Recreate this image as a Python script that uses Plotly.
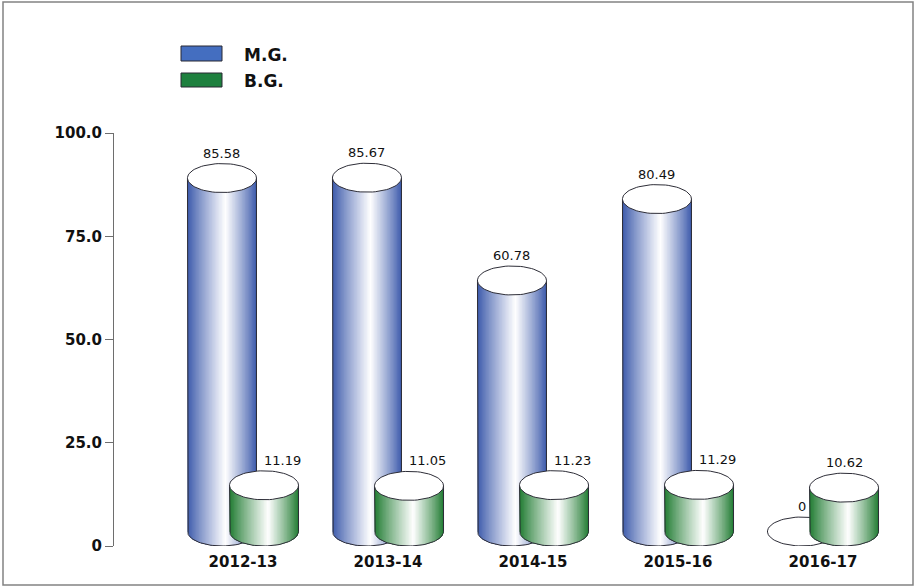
import numpy as np
import plotly.graph_objects as go

# ---- data ----
categories = ["2012-13", "2013-14", "2014-15", "2015-16", "2016-17"]
mg_values = [85.58, 85.67, 60.78, 80.49, 0]
bg_values = [11.19, 11.05, 11.23, 11.29, 10.62]
series_names = ["M.G.", "B.G."]
y_ticks = [0, 25, 50, 75, 100]
y_tick_labels = ["0", "25.0", "50.0", "75.0", "100.0"]

# ---- geometry / style ----
W, H = 915, 587
PX_LEFT, PX_RIGHT = 114, 900          # plot area, pixels
PX_TOP, PX_BOTTOM = 133, 546
CAT0_PX, CAT_STEP_PX = 243, 145       # first category centre and spacing
X_MIN = (PX_LEFT - CAT0_PX) / CAT_STEP_PX
X_MAX = (PX_RIGHT - CAT0_PX) / CAT_STEP_PX
Y_MIN, Y_MAX = 0, 100
Y_PX_PER_UNIT = (PX_BOTTOM - PX_TOP) / (Y_MAX - Y_MIN)

SERIES_OFFSET = 0.145                 # cylinder centre offset from category
RX = 34.5 / CAT_STEP_PX               # ellipse semi-axis in x units
RY = 14.5 / Y_PX_PER_UNIT             # ellipse semi-axis in y units
N_STRIPS = 48
OUTLINE = "rgb(45,45,55)"

styles = [
    dict(dark=(58, 88, 170), peak=0.55, swatch="rgb(68,110,192)"),
    dict(dark=(30, 122, 48), peak=0.56, swatch="rgb(30,128,62)"),
]


def shade(dark, t, peak):
    """Colour across the cylinder width: dark edges, white highlight."""
    if t <= peak:
        w = t / peak
    else:
        w = (1 - t) / (1 - peak)
    w = min(1.0, max(0.0, w)) ** 0.9
    r, g, b = (int(round(c + (255 - c) * w)) for c in dark)
    return f"rgb({r},{g},{b})"


def ellipse(xc, yc, n=72):
    th = np.linspace(0, 2 * np.pi, n)
    return list(xc + RX * np.cos(th)), list(yc + RY * np.sin(th))


fig = go.Figure()

for s, (values, st) in enumerate(zip([mg_values, bg_values], styles)):
    offset = -SERIES_OFFSET if s == 0 else SERIES_OFFSET
    centres = [i + offset for i in range(len(categories))]
    y_base = RY                                   # bottom ellipse centre
    edges = np.linspace(-1, 1, N_STRIPS + 1)

    # body: strips drawn left to right, each covering to the right edge
    for k in range(N_STRIPS):
        u0 = edges[k]
        t_mid = (edges[k] + edges[k + 1]) / 4 + 0.5
        xs, ys = [], []
        for xc, v in zip(centres, values):
            if v <= 0:
                continue
            y_top = v + RY
            arc_u = np.linspace(1, u0, 40)
            xs += [xc + RX * u0, xc + RX] + list(xc + RX * arc_u) + [xc + RX * u0, None]
            ys += [y_top, y_top] + list(y_base - RY * np.sqrt(np.clip(1 - arc_u ** 2, 0, 1))) + [y_top, None]
        if xs:
            fig.add_trace(go.Scatter(
                x=xs, y=ys, mode="lines", fill="toself",
                fillcolor=shade(st["dark"], t_mid, st["peak"]),
                line=dict(width=0), hoverinfo="skip", showlegend=False,
                cliponaxis=False))

    # body outline: sides and lower arc
    xs, ys = [], []
    for xc, v in zip(centres, values):
        if v <= 0:
            continue
        y_top = v + RY
        th = np.linspace(np.pi, 2 * np.pi, 50)
        xs += [xc - RX] + list(xc + RX * np.cos(th)) + [xc + RX, None]
        ys += [y_top] + list(y_base + RY * np.sin(th)) + [y_top, None]
    fig.add_trace(go.Scatter(
        x=xs, y=ys, mode="lines", line=dict(color=OUTLINE, width=1),
        hoverinfo="skip", showlegend=False, cliponaxis=False))

    # top caps
    xs, ys = [], []
    for xc, v in zip(centres, values):
        ex, ey = ellipse(xc, v + RY)
        xs += ex + [None]
        ys += ey + [None]
    fig.add_trace(go.Scatter(
        x=xs, y=ys, mode="lines", fill="toself", fillcolor="white",
        line=dict(color=OUTLINE, width=1), hoverinfo="skip",
        showlegend=False, cliponaxis=False))

    # value labels
    for i, (xc, v) in enumerate(zip(centres, values)):
        other = mg_values[i]
        shift = 18 if (s == 1 and other > v) else 0
        fig.add_annotation(
            x=xc, y=v + 2 * RY, text=f"{v:g}", showarrow=False,
            xanchor="center", yanchor="bottom", yshift=1, xshift=shift,
            font=dict(family="DejaVu Sans", size=13, color="#111"))

# legend
legend_rows = [(46, 61), (73, 87)]
for (top, bot), name, st in zip(legend_rows, series_names, styles):
    fig.add_shape(type="rect", xref="paper", yref="paper",
                  x0=181 / W, x1=222 / W, y0=(H - bot) / H, y1=(H - top) / H,
                  fillcolor=st["swatch"], line=dict(color="rgb(40,40,50)", width=1))
    fig.add_annotation(xref="paper", yref="paper", x=242 / W,
                       y=(H - (top + bot) / 2 - 1) / H, text=f"<b>{name}</b>",
                       showarrow=False, xanchor="left", yanchor="middle",
                       font=dict(family="DejaVu Sans", size=17, color="#111"))

# outer frame
fig.add_shape(type="rect", xref="paper", yref="paper",
              x0=3 / W, x1=913 / W, y0=2 / H, y1=(H - 2) / H,
              line=dict(color="rgb(130,130,130)", width=1.5))

fig.update_layout(
    template="none",
    width=W, height=H, margin=dict(l=0, r=0, t=0, b=0, pad=0),
    paper_bgcolor="white", plot_bgcolor="white", showlegend=False,
    xaxis=dict(domain=[PX_LEFT / W, PX_RIGHT / W], range=[X_MIN, X_MAX],
               automargin=False,
               tickvals=list(range(len(categories))),
               ticktext=[f"<b>{c}</b>" for c in categories],
               tickfont=dict(family="DejaVu Sans", size=15, color="#111"),
               showgrid=False, zeroline=False, showline=False, ticks="",
               ticklabelstandoff=5),
    yaxis=dict(domain=[(H - PX_BOTTOM) / H, (H - PX_TOP) / H],
               range=[Y_MIN, Y_MAX], tickvals=y_ticks, automargin=False,
               ticktext=[f"<b>{t}</b>" for t in y_tick_labels],
               tickfont=dict(family="DejaVu Sans", size=15, color="#111"),
               showgrid=False, zeroline=False, showline=True,
               linecolor="rgb(110,110,110)", linewidth=1,
               ticks="outside", ticklen=8, tickcolor="rgb(110,110,110)"),
)

fig.write_html("out.html")
